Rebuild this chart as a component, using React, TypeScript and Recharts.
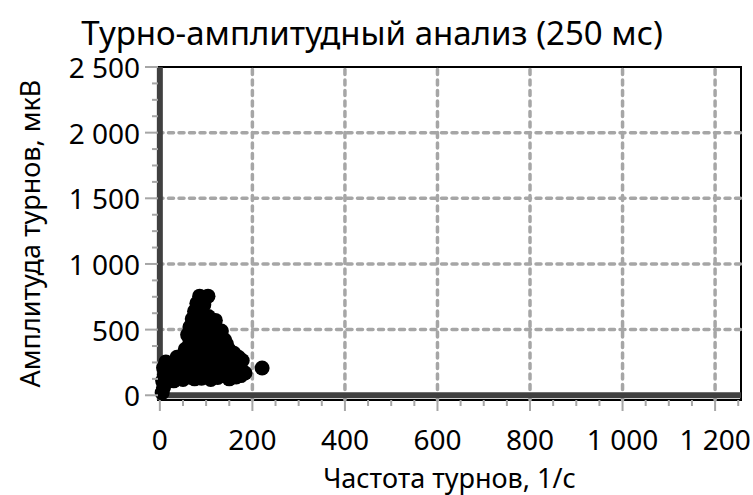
import React from 'react';
import { ScatterChart, Scatter, XAxis, YAxis, ReferenceLine, ReferenceArea } from 'recharts';

// частота турнов, 1/с
const freq = [
  86, 104, 80, 95, 75, 90, 105, 70, 85, 100, 120, 65, 80, 100, 125, 133, 60, 75, 95, 115,
  140, 144, 65, 85, 105, 125, 150, 160, 55, 75, 95, 115, 135, 170, 178, 110, 90, 120, 140, 155,
  5, 8, 6, 10, 8, 13, 20, 25, 30, 37, 40, 45, 50, 55, 60, 65, 70, 75, 80, 85, 90, 95,
  100, 105, 110, 115, 120, 125, 130, 135, 140, 145, 150, 155, 160, 165, 170, 175, 184, 221,
];
// амплитуда турнов, мкВ
const amp = [
  755, 755, 700, 690, 640, 630, 600, 580, 570, 570, 570, 520, 510, 500, 500, 490, 460, 450, 440, 430,
  420, 390, 400, 390, 380, 370, 345, 320, 350, 340, 330, 320, 310, 290, 265, 480, 520, 440, 360, 300,
  20, 60, 110, 160, 210, 253, 140, 200, 110, 290, 160, 230, 120, 190, 260, 140, 210, 125, 180, 250, 130, 200,
  150, 240, 120, 180, 230, 135, 190, 260, 150, 200, 125, 230, 170, 140, 200, 150, 170, 208,
];

const xTicks = [0, 50, 100, 150, 200, 250, 300, 350, 400, 450, 500, 550, 600, 650, 700, 750, 800, 850, 900, 950, 1000, 1050, 1100, 1150, 1200, 1250];
const yTicks = [0, 125, 250, 375, 500, 625, 750, 875, 1000, 1125, 1250, 1375, 1500, 1625, 1750, 1875, 2000, 2125, 2250, 2375, 2500];
const xGrid = [200, 400, 600, 800, 1000, 1200];
const yGrid = [500, 1000, 1500, 2000];

const data = freq.map((f, i) => ({ f, a: amp[i] }));

const FONT = '"Noto Sans", sans-serif';
const fmt = (v: number) => String(v).replace(/\B(?=(\d{3})+(?!\d))/g, ' ');

function XTick({ x, y, payload }: any) {
  const major = payload.value % 200 === 0;
  return (
    <g>
      <line x1={x} x2={x} y1={y} y2={y + (major ? 11 : 6)} stroke="#a6a6a6" strokeWidth={2} />
      {major && (
        <text x={x} y={y + 39} textAnchor="middle" dominantBaseline="central" fontSize={28} fontFamily={FONT} fill="#000">
          {fmt(payload.value)}
        </text>
      )}
    </g>
  );
}

function YTick({ x, y, payload }: any) {
  const major = payload.value % 500 === 0;
  return (
    <g>
      <line x1={x - (major ? 13 : 6)} x2={x} y1={y} y2={y} stroke="#a6a6a6" strokeWidth={2} />
      {major && (
        <text x={x - 18} y={y} textAnchor="end" dominantBaseline="central" fontSize={28} fontFamily={FONT} fill="#000">
          {fmt(payload.value)}
        </text>
      )}
    </g>
  );
}

const gridStyle = { stroke: '#a6a6a6', strokeWidth: 3.5, strokeDasharray: '5 5.5', strokeLinecap: 'round' as const };

export default function App() {
  return (
    <div style={{ position: 'absolute', left: 0, top: 0, width: 753, height: 495, background: '#fff' }}>
      <div
        style={{
          position: 'absolute', left: 0, top: 16, width: 744, textAlign: 'center',
          fontFamily: FONT, fontSize: 33, lineHeight: '33px', color: '#000',
        }}
      >
        Турно-амплитудный анализ (250 мс)
      </div>
      <ScatterChart width={753} height={495} margin={{ top: 67, right: 12, bottom: 35, left: 0 }}>
        <XAxis
          type="number"
          dataKey="f"
          domain={[-4, 1256]}
          ticks={xTicks}
          interval={0}
          tick={<XTick />}
          tickLine={false}
          axisLine={false}
          tickSize={0}
          tickMargin={0}
          height={60}
          label={{
            content: ({ viewBox }: any) => (
              <text
                x={viewBox.x + viewBox.width / 2}
                y={viewBox.y + 77}
                textAnchor="middle"
                dominantBaseline="central"
                fontSize={27}
                fontFamily={FONT}
                fill="#000"
              >
                Частота турнов, 1/с
              </text>
            ),
          }}
        />
        <YAxis
          type="number"
          dataKey="a"
          domain={[-36, 2500]}
          ticks={yTicks}
          interval={0}
          tick={<YTick />}
          tickLine={false}
          axisLine={false}
          tickSize={0}
          tickMargin={0}
          width={158}
          label={{
            content: ({ viewBox }: any) => {
              const cx = 29;
              const cy = viewBox.y + viewBox.height / 2;
              return (
                <text
                  x={cx}
                  y={cy}
                  transform={`rotate(-90, ${cx}, ${cy})`}
                  textAnchor="middle"
                  dominantBaseline="central"
                  fontSize={27}
                  fontFamily={FONT}
                  fill="#000"
                >
                  Амплитуда турнов, мкВ
                </text>
              );
            },
          }}
        />
        <ReferenceArea x1={-4} x2={1256} y1={-36} y2={2500} fill="none" stroke="#000" strokeWidth={2} />
        {xGrid.map((v) => (
          <ReferenceLine key={`x${v}`} x={v} {...gridStyle} />
        ))}
        {yGrid.map((v) => (
          <ReferenceLine key={`y${v}`} y={v} {...gridStyle} />
        ))}
        <ReferenceLine x={0} stroke="#404040" strokeWidth={6} />
        <ReferenceLine y={0} stroke="#404040" strokeWidth={6} />
        <Scatter
          data={data}
          isAnimationActive={false}
          shape={(p: any) => <circle cx={p.cx} cy={p.cy} r={7.5} fill="#000" />}
        />
      </ScatterChart>
    </div>
  );
}
